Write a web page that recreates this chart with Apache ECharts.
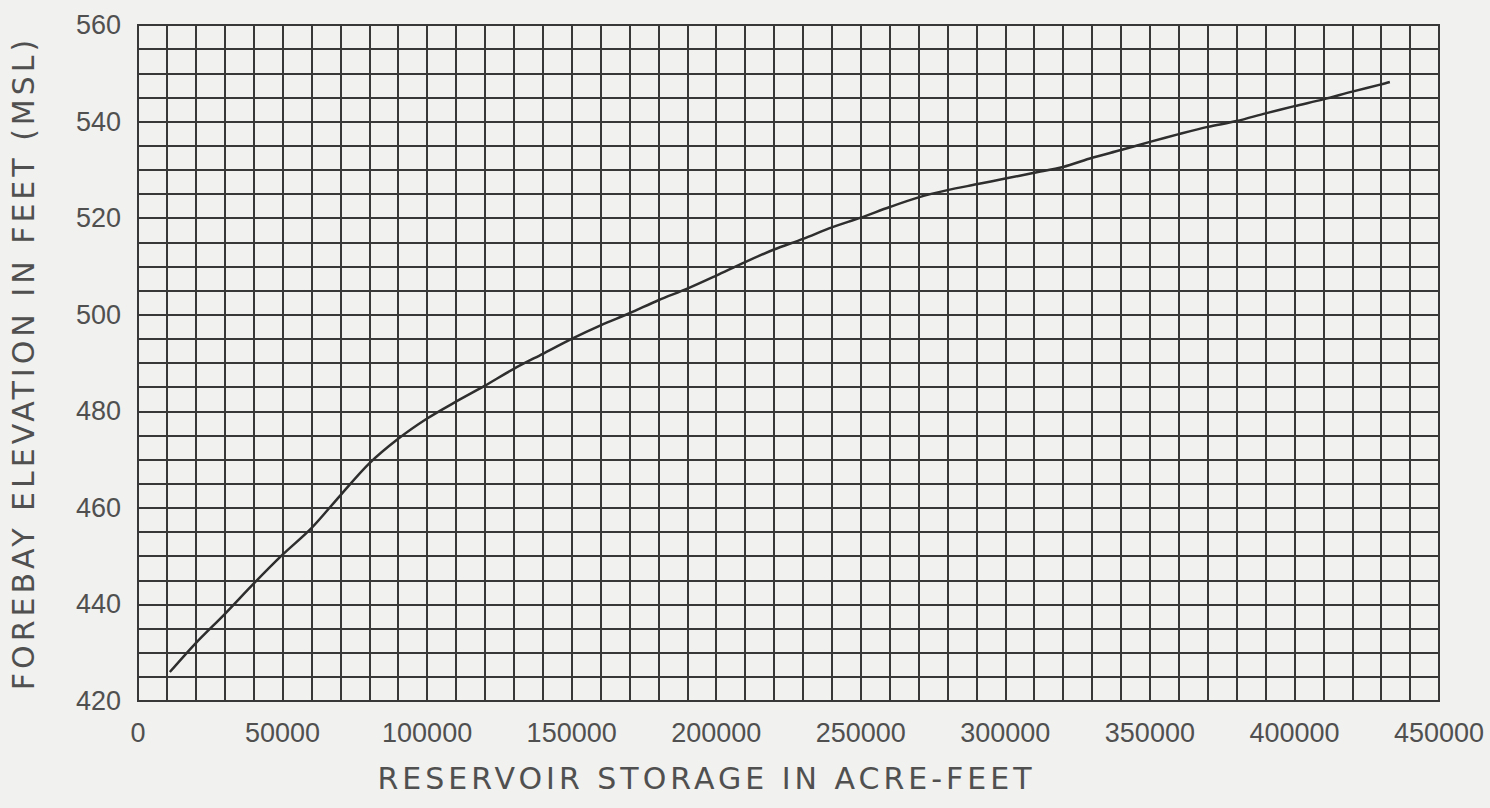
<!DOCTYPE html>
<html>
<head>
<meta charset="utf-8">
<script src="https://cdn.jsdelivr.net/npm/echarts@6/dist/echarts.min.js"></script>
<style>
  html, body { margin: 0; padding: 0; background: #f1f1ef; }
  #chart { width: 1490px; height: 808px; }
  /* the drawn lettering is widely spaced; only the axis titles use DejaVu */
  #chart text[style*="DejaVu"], #chart text[font-family*="DejaVu"] { letter-spacing: 4px; }
</style>
</head>
<body>
<div id="chart"></div>
<script>
// storage in acre-feet
const storage = [11000, 20000, 30000, 40000, 50000, 60000, 70000, 80000, 90000,
  100000, 110000, 120000, 130000, 140000, 150000, 160000, 170000, 180000, 190000,
  200000, 210000, 220000, 230000, 240000, 250000, 260000, 270000, 280000, 290000,
  300000, 310000, 320000, 330000, 340000, 350000, 360000, 370000, 380000, 390000,
  400000, 410000, 420000, 430000, 433000];
// forebay elevation (feet MSL)
const elevation = [426, 432, 438, 444.3, 450.3, 455.8, 462.6, 469.2, 474.3,
  478.5, 482, 485.3, 488.8, 491.9, 495, 497.8, 500.3, 503, 505.4,
  508.1, 510.9, 513.5, 515.7, 518.1, 520.1, 522.3, 524.3, 525.8, 527,
  528.2, 529.4, 530.6, 532.5, 534.1, 535.8, 537.4, 538.9, 540.1, 541.7,
  543.2, 544.6, 546.2, 547.7, 548.2];

const xTitle = 'RESERVOIR STORAGE IN ACRE-FEET';
const yTitle = 'FOREBAY ELEVATION IN FEET (MSL)';

const gridColor = '#383838';
const textColor = '#505050';
const font = 'Liberation Sans';

const chart = echarts.init(document.getElementById('chart'), null, { renderer: 'svg' });

const option = {
  backgroundColor: '#f1f1ef',
  animation: false,
  grid: {
    left: 137,
    right: 51,
    top: 25,
    bottom: 107,
    show: true,
    borderColor: gridColor,
    borderWidth: 2
  },
  xAxis: {
    type: 'value',
    min: 0,
    max: 450000,
    interval: 50000,
    name: xTitle,
    nameLocation: 'middle',
    nameGap: 62,
    nameTextStyle: {
      fontFamily: 'DejaVu Sans',
      fontSize: 30,
      color: textColor,
      padding: [0, 164, 0, 0]
    },
    axisLine: { show: true, lineStyle: { color: gridColor, width: 2 } },
    axisTick: { show: false },
    axisLabel: {
      margin: 18,
      fontFamily: font,
      fontSize: 27,
      color: textColor,
      formatter: v => String(v)
    },
    splitLine: { show: true, lineStyle: { color: gridColor, width: 2 } },
    minorTick: { show: false, splitNumber: 5 },
    minorSplitLine: { show: true, lineStyle: { color: gridColor, width: 2 } }
  },
  yAxis: {
    type: 'value',
    min: 420,
    max: 560,
    interval: 20,
    name: yTitle,
    nameLocation: 'middle',
    nameGap: 100,
    nameTextStyle: {
      fontFamily: 'DejaVu Sans',
      fontSize: 30,
      color: textColor
    },
    axisLine: { show: true, lineStyle: { color: gridColor, width: 2 } },
    axisTick: { show: false },
    axisLabel: {
      margin: 17,
      fontFamily: font,
      fontSize: 27,
      color: textColor
    },
    splitLine: { show: true, lineStyle: { color: gridColor, width: 2 } },
    minorTick: { show: false, splitNumber: 4 },
    minorSplitLine: { show: true, lineStyle: { color: gridColor, width: 2 } }
  },
  series: [{
    type: 'line',
    data: storage.map((s, i) => [s, elevation[i]]),
    symbol: 'none',
    smooth: 0.3,
    lineStyle: { color: '#2e2e2e', width: 2.5 }
  }]
};

chart.setOption(option);
</script>
</body>
</html>
